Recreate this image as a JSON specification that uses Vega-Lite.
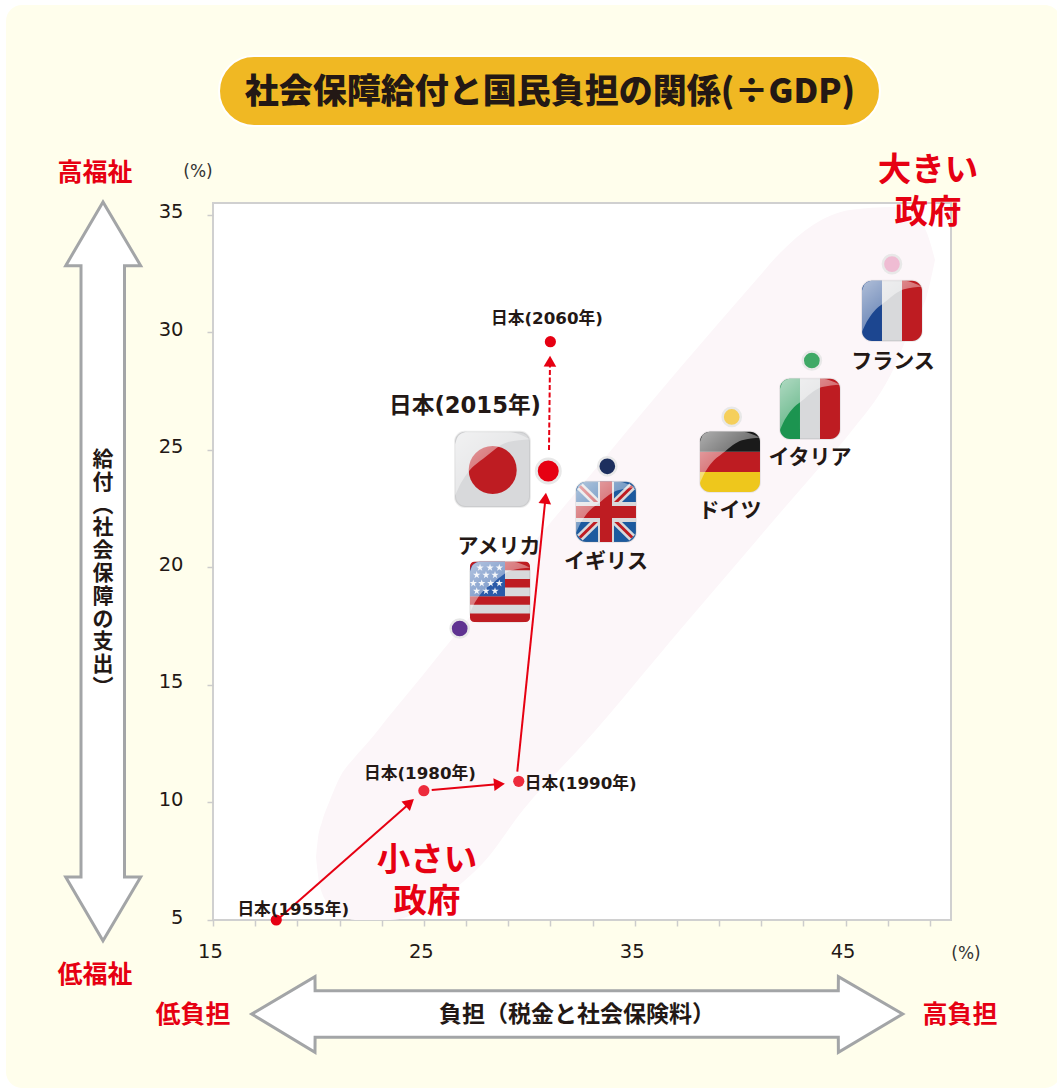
{"$schema":"https://vega.github.io/schema/vega-lite/v6.json","width":738,"height":717,"autosize":{"type":"none"},"padding":{"left":213,"top":203,"right":106,"bottom":168},"background":"#ffffff",
"config":{"view":{"stroke":null},"text":{"font":"DejaVu Sans, Noto Sans CJK JP","fontWeight":"bold","align":"center","baseline":"middle","color":"#231815"}},
"datasets":{
"panel":[{"x":5.183,"x2":55.2,"y":-2.147,"y2":43.923}],
"plot":[{"x":15,"x2":50,"y":5,"y2":35.5}],
"pill":[{"x":15.285,"x2":46.632,"y":38.776,"y2":41.754}],
"blob":[{"x":19.885,"y":7.68,"y2":7.68},{"x":19.98,"y":8.488,"y2":6.914},{"x":20.169,"y":9.169,"y2":6.149},{"x":20.549,"y":10.105,"y2":5.638},{"x":21.023,"y":11.083,"y2":5.298},{"x":21.734,"y":11.934,"y2":5},{"x":22.446,"y":12.657,"y2":5},{"x":23.394,"y":13.721,"y2":5},{"x":24.959,"y":15.422,"y2":5.425},{"x":25.908,"y":16.486,"y2":5.936},{"x":26.572,"y":17.209,"y2":6.404},{"x":27.805,"y":18.612,"y2":7.425},{"x":29.702,"y":20.527,"y2":9.679},{"x":32.737,"y":23.76,"y2":12.657},{"x":37.147,"y":28.482,"y2":17.336},{"x":40.799,"y":32.267,"y2":21.165},{"x":41.89,"y":33.374,"y2":22.313},{"x":43.455,"y":34.565,"y2":23.93},{"x":45.21,"y":35.203,"y2":25.717},{"x":47.249,"y":35.33,"y2":28.396},{"x":48.198,"y":34.99,"y2":30.396},{"x":48.861,"y":34.224,"y2":31.587},{"x":49.004,"y":33.842,"y2":32.098},{"x":49.241,"y":33.076,"y2":33.076}],
"vArrow":[{"y":35.543,"x":9.783,"x2":9.783},{"y":32.833,"x":8.014,"x2":11.571},{"y":32.829,"x":8.74,"x2":10.803},{"y":6.829,"x":8.74,"x2":10.803},{"y":6.825,"x":8.014,"x2":11.571},{"y":4.119,"x":9.783,"x2":9.783}],
"hArrow":[{"x":16.835,"y":1.001,"y2":1.001},{"x":19.837,"y":2.588,"y2":-0.628},{"x":19.842,"y":1.992,"y2":0.01},{"x":44.655,"y":1.992,"y2":0.01},{"x":44.66,"y":2.588,"y2":-0.628},{"x":47.709,"y":1.001,"y2":1.001}],
"flagBase":[{"flag":"France","x":45.779,"x2":48.624,"y":29.63,"y2":32.195,"swatch":"paper"},{"flag":"Italy","x":41.89,"x2":44.735,"y":25.462,"y2":28.027,"swatch":"paper"},{"flag":"Germany","x":38.096,"x2":40.941,"y":23.207,"y2":25.772,"swatch":"paper"},{"flag":"UK","x":32.215,"x2":35.06,"y":21.08,"y2":23.645,"swatch":"ukblue"},{"flag":"USA","x":27.188,"x2":30.033,"y":17.677,"y2":20.242,"swatch":"paper"},{"flag":"Japan","x":26.477,"x2":30.034,"y":22.569,"y2":25.772,"swatch":"paper"}],
"diagonals":[{"x":32.4,"y":23.45,"x2":34.88,"y2":21.27},{"x":32.4,"y":21.27,"x2":34.88,"y2":23.45}],
"stripesLeft":[{"x":45.779,"x2":46.727,"y":29.63,"y2":32.195,"swatch":"blue"},{"x":41.89,"x2":42.838,"y":25.462,"y2":28.027,"swatch":"green"}],
"stripesRight":[{"x":47.676,"x2":48.624,"y":29.63,"y2":32.195,"swatch":"red"},{"x":43.787,"x2":44.735,"y":25.462,"y2":28.027,"swatch":"red"}],
"stripesTop":[{"x":38.096,"x2":40.941,"y":24.917,"y2":25.772,"swatch":"black"},{"x":27.188,"x2":30.033,"y":19.876,"y2":20.242,"swatch":"red"}],
"stripesBottom":[{"x":38.096,"x2":40.941,"y":23.207,"y2":24.062,"swatch":"gold"},{"x":27.188,"x2":30.033,"y":17.677,"y2":18.043,"swatch":"red"}],
"stripesMid":[{"x":38.096,"x2":40.941,"y":24.062,"y2":24.917,"swatch":"red"},{"x":27.188,"x2":30.033,"y":19.143,"y2":19.509,"swatch":"red"},{"x":27.188,"x2":30.033,"y":18.41,"y2":18.776,"swatch":"red"},{"x":33.259,"x2":34.017,"y":21.08,"y2":23.645,"swatch":"paper"},{"x":32.215,"x2":35.06,"y":21.931,"y2":22.781,"swatch":"paper"},{"x":33.353,"x2":33.923,"y":21.08,"y2":23.645,"swatch":"red"},{"x":32.215,"x2":35.06,"y":22.101,"y2":22.611,"swatch":"red"}],
"canton":[{"x":27.188,"x2":28.848,"y":18.776,"y2":20.242,"swatch":"canton"}],
"stars":[{"x":27.663,"y":19.987},{"x":28.137,"y":19.987},{"x":28.578,"y":19.987},{"x":27.506,"y":19.676},{"x":27.947,"y":19.676},{"x":28.374,"y":19.676},{"x":27.345,"y":19.323},{"x":27.743,"y":19.323},{"x":28.17,"y":19.323},{"x":28.578,"y":19.323},{"x":27.506,"y":18.995},{"x":27.947,"y":18.995},{"x":28.374,"y":18.995}],
"sun":[{"x":28.265,"y":24.143,"swatch":"red"}],
"gloss":[
{"flag":"France","x":45.779,"y":30.015,"y2":31.767},{"flag":"France","x":45.921,"y":30.297,"y2":32.067},{"flag":"France","x":46.254,"y":30.784,"y2":32.195},{"flag":"France","x":46.917,"y":31.323,"y2":32.195},{"flag":"France","x":47.771,"y":31.836,"y2":32.195},{"flag":"France","x":48.624,"y":31.938,"y2":31.938},
{"flag":"Italy","x":41.89,"y":25.847,"y2":27.599},{"flag":"Italy","x":42.032,"y":26.129,"y2":27.899},{"flag":"Italy","x":42.365,"y":26.616,"y2":28.027},{"flag":"Italy","x":43.028,"y":27.155,"y2":28.027},{"flag":"Italy","x":43.882,"y":27.668,"y2":28.027},{"flag":"Italy","x":44.735,"y":27.77,"y2":27.77},
{"flag":"Germany","x":38.096,"y":23.592,"y2":25.344},{"flag":"Germany","x":38.238,"y":23.874,"y2":25.644},{"flag":"Germany","x":38.571,"y":24.361,"y2":25.772},{"flag":"Germany","x":39.234,"y":24.9,"y2":25.772},{"flag":"Germany","x":40.088,"y":25.413,"y2":25.772},{"flag":"Germany","x":40.941,"y":25.515,"y2":25.515},
{"flag":"UK","x":32.215,"y":21.465,"y2":23.217},{"flag":"UK","x":32.357,"y":21.747,"y2":23.517},{"flag":"UK","x":32.69,"y":22.234,"y2":23.645},{"flag":"UK","x":33.353,"y":22.773,"y2":23.645},{"flag":"UK","x":34.207,"y":23.286,"y2":23.645},{"flag":"UK","x":35.06,"y":23.388,"y2":23.388},
{"flag":"USA","x":27.188,"y":18.062,"y2":19.814},{"flag":"USA","x":27.33,"y":18.344,"y2":20.114},{"flag":"USA","x":27.663,"y":18.831,"y2":20.242},{"flag":"USA","x":28.326,"y":19.37,"y2":20.242},{"flag":"USA","x":29.18,"y":19.883,"y2":20.242},{"flag":"USA","x":30.033,"y":19.985,"y2":19.985},
{"flag":"Japan","x":26.477,"y":23.049,"y2":25.237},{"flag":"Japan","x":26.655,"y":23.402,"y2":25.612},{"flag":"Japan","x":27.071,"y":24.01,"y2":25.772},{"flag":"Japan","x":27.9,"y":24.683,"y2":25.772},{"flag":"Japan","x":28.967,"y":25.324,"y2":25.772},{"flag":"Japan","x":30.034,"y":25.452,"y2":25.452}],
"arrows":[{"x":18.035,"y":5,"x2":24.343,"y2":9.977},{"x":25.372,"y":10.53,"x2":28.611,"y2":10.785},{"x":29.431,"y":11.309,"x2":30.769,"y2":22.952}],
"arrowDashed":[{"x":30.935,"y":24.993,"x2":30.982,"y2":28.737}],
"heads":[{"x":24.333,"y":9.99,"bearing":48.6},{"x":28.583,"y":10.777,"bearing":85},{"x":30.764,"y":22.939,"bearing":6},{"x":30.982,"y":28.771,"bearing":0.5}],
"countries":[{"country":"アメリカ","x":26.7,"y":17.4,"swatch":"dotUS"},{"country":"イギリス","x":33.7,"y":24.3,"swatch":"dotUK"},{"country":"ドイツ","x":39.6,"y":26.4,"swatch":"dotDE"},{"country":"イタリア","x":43.4,"y":28.8,"swatch":"dotIT"},{"country":"フランス","x":47.2,"y":32.9,"swatch":"dotFR"}],
"japan2015":[{"year":2015,"x":30.9,"y":24.1}],
"japanOther":[{"year":1955,"x":18,"y":5,"swatch":"jpA"},{"year":1980,"x":25,"y":10.5,"swatch":"jpB"},{"year":1990,"x":29.5,"y":10.9,"swatch":"jpB"},{"year":2060,"x":31,"y":29.6,"swatch":"jpA"}],
"titleText":[{"label":"社会保障給付と国民負担の関係(÷GDP)","x":30.982,"y":40.265}],
"redBig":[{"label":"大きい","x":48.909,"y":36.947},{"label":"政府","x":48.909,"y":35.16},{"label":"小さい","x":25.149,"y":7.637},{"label":"政府","x":25.149,"y":5.893}],
"redMid":[{"label":"高福祉","x":9.404,"y":36.819},{"label":"低福祉","x":9.404,"y":2.703},{"label":"低負担","x":14.051,"y":1.001},{"label":"高負担","x":50.426,"y":1.001}],
"percent":[{"label":"(%)","x":14.289,"y":36.862},{"label":"(%)","x":50.711,"y":3.596}],
"names":[{"label":"フランス","x":47.249,"y":28.822},{"label":"イタリア","x":43.313,"y":24.738},{"label":"ドイツ","x":39.519,"y":22.484},{"label":"イギリス","x":33.638,"y":20.314},{"label":"アメリカ","x":28.564,"y":20.952}],
"bigJapan":[{"label":"日本(2015年)","x":26.951,"y":26.865}],
"smallJapan":[{"label":"日本(2060年)","x":30.84,"y":30.608},{"label":"日本(1980年)","x":24.817,"y":11.253},{"label":"日本(1990年)","x":32.438,"y":10.841},{"label":"日本(1955年)","x":18.808,"y":5.468}],
"axisTitles":[{"label":"負担（税金と社会保険料）","x":32.263,"y":1.001}],
"axisTitleV":[{"label":"給\n付\n︵\n社\n会\n保\n障\nの\n支\n出\n︶","x":9.783,"y":24.568}]
},
"encoding":{
"x":{"field":"x","type":"quantitative","scale":{"domain":[15,50],"nice":false,"zero":false},"axis":{"title":null,"grid":false,"domain":false,"zindex":1,"values":[15,17,19,21,23,25,27,29,31,33,35,37,39,41,43,45,47,49],"labelExpr":"(datum.value-15)%10==0 ? datum.label : ''","labelFont":"DejaVu Sans","labelFontSize":19.5,"labelColor":"#231815","labelOffset":-3,"labelPadding":16,"labelOverlap":false,"labelFlush":false,"labelBound":false,"tickColor":"#cccccc","tickWidth":1.5,"tickSize":6}},
"y":{"field":"y","type":"quantitative","scale":{"domain":[5,35.5],"nice":false,"zero":false},"axis":{"title":null,"grid":false,"domain":false,"zindex":1,"values":[5,10,15,20,25,30,35],"labelFont":"DejaVu Sans","labelFontSize":19.5,"labelColor":"#231815","labelOffset":-3,"labelPadding":24,"labelOverlap":false,"labelFlush":false,"labelBound":false,"tickColor":"#cccccc","tickWidth":1.5,"tickSize":6}}
},
"layer":[
{"data":{"name":"panel"},"mark":{"type":"rect","fill":"#fffeec","cornerRadius":16},"encoding":{"x2":{"field":"x2"},"y2":{"field":"y2"}}},
{"data":{"name":"plot"},"mark":{"type":"rect","fill":"#ffffff","stroke":"#d0d0d0","strokeWidth":2},"encoding":{"x2":{"field":"x2"},"y2":{"field":"y2"}}},
{"data":{"name":"blob"},"mark":{"type":"area","fill":"#fcf6f9","interpolate":"monotone"},"encoding":{"y2":{"field":"y2"}}},
{"data":{"name":"pill"},"mark":{"type":"rect","fill":"#f0b823","stroke":"#ffffff","strokeWidth":2,"cornerRadius":35},"encoding":{"x2":{"field":"x2"},"y2":{"field":"y2"}}},
{"data":{"name":"vArrow"},"mark":{"type":"area","orient":"horizontal","fill":"#ffffff","stroke":"#a3a5a7","strokeWidth":3},"encoding":{"x2":{"field":"x2"}}},
{"data":{"name":"hArrow"},"mark":{"type":"area","orient":"vertical","fill":"#ffffff","stroke":"#a3a5a7","strokeWidth":3},"encoding":{"y2":{"field":"y2"}}},
{"data":{"name":"flagBase"},"mark":{"type":"rect","cornerRadius":10,"stroke":"#888888","strokeOpacity":0.15,"strokeWidth":2},"encoding":{"x2":{"field":"x2"},"y2":{"field":"y2"},"color":{"field":"swatch","type":"nominal","legend":null,"scale":{"domain":["paper","ukblue","blue","green","red","black","gold","canton","dotUS","dotUK","dotDE","dotIT","dotFR","jpA","jpB"],"range":["#d8d9db","#1c5a9f","#1c4690","#1c9450","#be1c22","#1a1a1a","#eec71c","#2a5aa8","#5f3391","#1d2f5e","#f5cf5b","#3fa966","#efbcd3","#e60012","#ed2b3c"]}}}},
{"data":{"name":"diagonals"},"mark":{"type":"rule","color":"#d8d9db","strokeWidth":8},"encoding":{"x2":{"field":"x2"},"y2":{"field":"y2"}}},
{"data":{"name":"diagonals"},"mark":{"type":"rule","color":"#be1c22","strokeWidth":3},"encoding":{"x2":{"field":"x2"},"y2":{"field":"y2"}}},
{"data":{"name":"stripesMid"},"mark":{"type":"rect"},"encoding":{"x2":{"field":"x2"},"y2":{"field":"y2"},"color":{"field":"swatch","type":"nominal","legend":null}}},
{"data":{"name":"stripesLeft"},"mark":{"type":"rect","cornerRadiusTopLeft":10,"cornerRadiusBottomLeft":10},"encoding":{"x2":{"field":"x2"},"y2":{"field":"y2"},"color":{"field":"swatch","type":"nominal","legend":null}}},
{"data":{"name":"stripesRight"},"mark":{"type":"rect","cornerRadiusTopRight":10,"cornerRadiusBottomRight":10},"encoding":{"x2":{"field":"x2"},"y2":{"field":"y2"},"color":{"field":"swatch","type":"nominal","legend":null}}},
{"data":{"name":"stripesTop"},"mark":{"type":"rect","cornerRadiusTopLeft":10,"cornerRadiusTopRight":10},"encoding":{"x2":{"field":"x2"},"y2":{"field":"y2"},"color":{"field":"swatch","type":"nominal","legend":null}}},
{"data":{"name":"stripesBottom"},"mark":{"type":"rect","cornerRadiusBottomLeft":10,"cornerRadiusBottomRight":10},"encoding":{"x2":{"field":"x2"},"y2":{"field":"y2"},"color":{"field":"swatch","type":"nominal","legend":null}}},
{"data":{"name":"canton"},"mark":{"type":"rect","cornerRadiusTopLeft":10},"encoding":{"x2":{"field":"x2"},"y2":{"field":"y2"},"color":{"field":"swatch","type":"nominal","legend":null}}},
{"data":{"name":"stars"},"mark":{"type":"point","filled":true,"opacity":1,"color":"#eef1f6","size":60,"shape":"M0,-1L0.224,-0.309L0.951,-0.309L0.363,0.118L0.588,0.809L0,0.382L-0.588,0.809L-0.363,0.118L-0.951,-0.309L-0.224,-0.309Z"}},
{"data":{"name":"sun"},"mark":{"type":"point","filled":true,"opacity":1,"size":2304,"shape":"circle"},"encoding":{"color":{"field":"swatch","type":"nominal","legend":null}}},
{"data":{"name":"gloss"},"mark":{"type":"area","interpolate":"monotone","fill":{"gradient":"linear","x1":0,"y1":0,"x2":1,"y2":1,"stops":[{"offset":0,"color":"rgba(255,255,255,0.65)"},{"offset":1,"color":"rgba(255,255,255,0.12)"}]}},"encoding":{"y2":{"field":"y2"},"detail":{"field":"flag"}}},
{"data":{"name":"arrows"},"mark":{"type":"rule","color":"#e60012","strokeWidth":2},"encoding":{"x2":{"field":"x2"},"y2":{"field":"y2"}}},
{"data":{"name":"arrowDashed"},"mark":{"type":"rule","color":"#e60012","strokeWidth":2,"strokeDash":[5,2.5]},"encoding":{"x2":{"field":"x2"},"y2":{"field":"y2"}}},
{"data":{"name":"heads"},"mark":{"type":"point","filled":true,"opacity":1,"color":"#e60012","size":160,"shape":"triangle-up"},"encoding":{"angle":{"field":"bearing","type":"quantitative","scale":null}}},
{"data":{"name":"countries"},"mark":{"type":"point","filled":true,"opacity":1,"size":331,"shape":"circle","stroke":"#e8e8e8","strokeWidth":2.5},"encoding":{"color":{"field":"swatch","type":"nominal","legend":null}}},
{"data":{"name":"japan2015"},"mark":{"type":"point","filled":true,"opacity":1,"size":576,"shape":"circle","fill":"#e60012","stroke":"#e8e8e8","strokeWidth":3}},
{"data":{"name":"japanOther"},"mark":{"type":"point","filled":true,"opacity":1,"size":125,"shape":"circle"},"encoding":{"color":{"field":"swatch","type":"nominal","legend":null}}},
{"data":{"name":"titleText"},"mark":{"type":"text","font":"Noto Sans CJK JP","fontWeight":900,"fontSize":34,"dy":2,"color":"#231815"},"encoding":{"text":{"field":"label"}}},
{"data":{"name":"redBig"},"mark":{"type":"text","font":"Noto Sans CJK JP","fontSize":33.5,"dy":2.5,"color":"#e60012"},"encoding":{"text":{"field":"label"}}},
{"data":{"name":"redMid"},"mark":{"type":"text","font":"Noto Sans CJK JP","fontSize":25,"dy":1,"color":"#e60012"},"encoding":{"text":{"field":"label"}}},
{"data":{"name":"percent"},"mark":{"type":"text","font":"DejaVu Sans","fontWeight":"normal","fontSize":17,"dy":1,"color":"#333333"},"encoding":{"text":{"field":"label"}}},
{"data":{"name":"names"},"mark":{"type":"text","font":"Noto Sans CJK JP","fontSize":21,"dy":2},"encoding":{"text":{"field":"label"}}},
{"data":{"name":"bigJapan"},"mark":{"type":"text","fontSize":22.7},"encoding":{"text":{"field":"label"}}},
{"data":{"name":"smallJapan"},"mark":{"type":"text","fontSize":16.7,"dy":1},"encoding":{"text":{"field":"label"}}},
{"data":{"name":"axisTitles"},"mark":{"type":"text","font":"Noto Sans CJK JP","fontSize":23,"dy":1},"encoding":{"text":{"field":"label"}}},
{"data":{"name":"axisTitleV"},"mark":{"type":"text","font":"Noto Sans CJK JP","fontSize":21,"lineBreak":"\n","lineHeight":22.8},"encoding":{"text":{"field":"label"}}}
]}
